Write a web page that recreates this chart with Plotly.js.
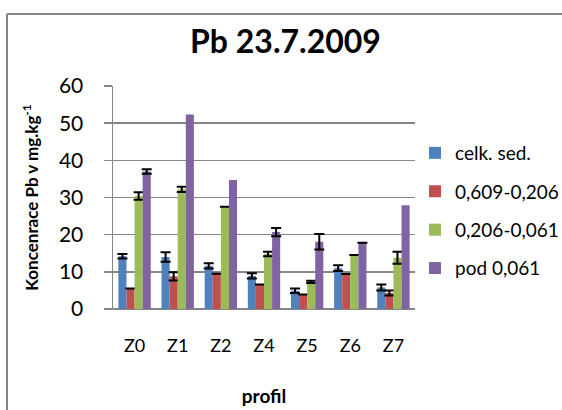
<!DOCTYPE html>
<html>
<head>
<meta charset="utf-8">
<script src="https://cdn.plot.ly/plotly-3.0.1.min.js"></script>
<style>html,body{margin:0;padding:0;background:#fff;}#chart{width:562px;height:410px;}</style>
</head>
<body>
<div id="chart"></div>
<script>
const categories = ["Z0", "Z1", "Z2", "Z4", "Z5", "Z6", "Z7"];
const seriesNames = ["celk. sed.", "0,609-0,206", "0,206-0,061", "pod 0,061"];
const celkSed = [14.2, 14.0, 11.6, 8.9, 4.9, 11.0, 5.8];
const celkSedErr = [0.6, 1.3, 0.7, 0.7, 0.6, 0.8, 0.8];
const frac609 = [5.5, 8.8, 9.5, 6.6, 3.9, 9.4, 4.3];
const frac609Err = [0, 1.1, 0, 0, 0, 0, 0.7];
const frac206 = [30.4, 32.2, 27.5, 14.8, 7.3, 14.5, 13.8];
const frac206Err = [1.0, 0.7, 0, 0.6, 0.3, 0, 1.6];
const pod061 = [37.0, 52.3, 34.7, 20.7, 18.1, 17.8, 27.9];
const pod061Err = [0.6, NaN, NaN, 1.1, 2.1, 0, NaN];
const yTicks = [0, 10, 20, 30, 40, 50, 60];

const colors = ["#4F81BD", "#C0504D", "#9BBB59", "#8064A2"];
const values = [celkSed, frac609, frac206, pod061];
const errs = [celkSedErr, frac609Err, frac206Err, pod061Err];
const FONT = "Lato, 'Open Sans', sans-serif";

const traces = values.map((v, i) => ({
  type: "bar",
  name: seriesNames[i],
  legendgroup: "g" + i,
  x: categories,
  y: v,
  marker: {color: colors[i]},
  error_y: {type: "data", array: errs[i], visible: true, color: "#000", thickness: 2, width: 5},
  hoverinfo: "none"
}));

const L = 113, R = 147, T = 86, B = 101;
const pw = 562 - L - R, ph = 410 - T - B;
const px = x => (x - L) / pw;
const py = y => (410 - B - y) / ph;
const GRID = "#868686";

const layout = {
  width: 562, height: 410,
  margin: {l: L, r: R, t: T, b: B, pad: 0, autoexpand: false},
  paper_bgcolor: "#fff", plot_bgcolor: "#fff",
  font: {family: FONT, color: "#000"},
  title: {text: "<b>Pb 23.7.2009</b>", font: {family: FONT, size: 32, color: "#000"}, x: 0.508, xanchor: "center", y: 1 - 42 / 410, yanchor: "middle"},
  barmode: "group",
  bargap: 0.25,
  bargroupgap: 0,
  showlegend: true,
  legend: {x: px(415), xanchor: "left", y: py(134), yanchor: "top", font: {family: FONT, size: 19, color: "#000"}, tracegroupgap: 10.7, itemwidth: 30, bgcolor: "rgba(0,0,0,0)"},
  xaxis: {
    type: "category",
    showgrid: false,
    showline: false,
    ticks: "",
    tickfont: {family: FONT, size: 18, color: "#000"},
    ticklabelstandoff: 24,
    title: {text: "<b>profil</b>", font: {family: FONT, size: 19, color: "#000"}, standoff: 34},
    fixedrange: true
  },
  yaxis: {
    range: [0, 60],
    tickvals: yTicks,
    ticktext: yTicks.map(String),
    showgrid: true,
    gridcolor: GRID,
    gridwidth: 1.5,
    zeroline: true,
    zerolinecolor: GRID,
    zerolinewidth: 1.5,
    showline: true,
    linecolor: GRID,
    linewidth: 1.5,
    ticks: "outside",
    ticklen: 8,
    tickcolor: GRID,
    tickwidth: 1.5,
    tickfont: {family: FONT, size: 21, color: "#000"},
    ticklabelstandoff: 16,
    title: {text: "<b>Koncenrace Pb v mg.kg<sup>-1</sup></b>", font: {family: FONT, size: 17, color: "#000"}, standoff: 16},
    fixedrange: true
  },
  shapes: [
    {type: "line", xref: "paper", yref: "paper", x0: px(7), x1: px(600), y0: py(14), y1: py(14), line: {color: GRID, width: 2}},
    {type: "line", xref: "paper", yref: "paper", x0: px(7), x1: px(7), y0: py(14), y1: py(430), line: {color: GRID, width: 2}},
    {type: "line", xref: "paper", yref: "paper", x0: px(105), x1: px(113), y0: 0, y1: 0, line: {color: GRID, width: 1.5}}
  ]
};

Plotly.newPlot("chart", traces, layout, {displayModeBar: false, staticPlot: true});
</script>
</body>
</html>
